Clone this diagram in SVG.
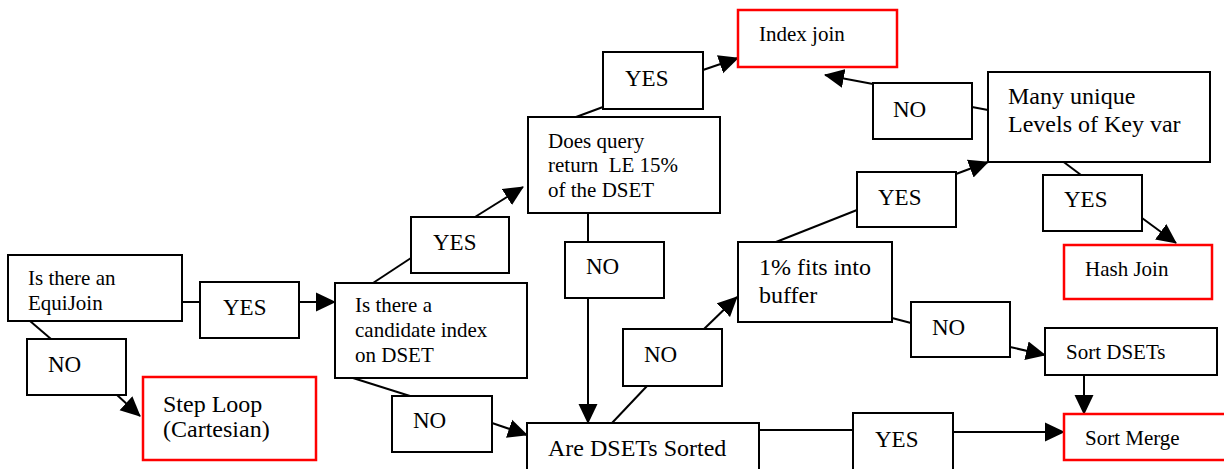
<svg xmlns="http://www.w3.org/2000/svg" width="1224" height="469" viewBox="0 0 1224 469">
<style>
.box{fill:#fff;stroke:#000;stroke-width:2}
.red{fill:#fff;stroke:#ff0000;stroke-width:2.5}
.t{font-family:"Liberation Serif","Times New Roman",serif;fill:#000;white-space:pre}
.s21{font-size:21px}
.s23{font-size:23px}
.s24{font-size:24px}
.c line{stroke:#000;stroke-width:2}
.c .a{marker-end:url(#ah)}
</style>
<defs>
<marker id="ah" markerUnits="userSpaceOnUse" markerWidth="20" markerHeight="20" refX="19" refY="10" orient="auto">
<path d="M0,0.5 L20,10 L0,19.5 z" fill="#000"/>
</marker>
</defs>
<rect width="1224" height="469" fill="#fff"/>
<g class="c" id="connectors">
<line x1="182" y1="302" x2="200" y2="302"/>
<line class="a" x1="299" y1="302" x2="335" y2="302"/>
<line x1="30" y1="321" x2="51" y2="339"/>
<line class="a" x1="117" y1="395" x2="140" y2="416"/>
<line x1="373" y1="283" x2="411" y2="258"/>
<line class="a" x1="475" y1="217" x2="523" y2="187"/>
<line x1="353" y1="378" x2="410" y2="396"/>
<line class="a" x1="492" y1="423" x2="527" y2="435"/>
<line x1="576" y1="117" x2="603" y2="107"/>
<line class="a" x1="703" y1="70" x2="738" y2="58"/>
<line x1="588" y1="213" x2="588" y2="242"/>
<line class="a" x1="588" y1="298" x2="588" y2="423"/>
<line x1="612" y1="423" x2="647" y2="386"/>
<line class="a" x1="704" y1="329" x2="737" y2="297"/>
<line x1="776" y1="242" x2="857" y2="210"/>
<line class="a" x1="956" y1="174" x2="988" y2="162"/>
<line x1="972" y1="107" x2="988" y2="110"/>
<line class="a" x1="873" y1="84" x2="825" y2="75"/>
<line x1="1057" y1="157" x2="1081" y2="175"/>
<line class="a" x1="1142" y1="218" x2="1176" y2="243"/>
<line x1="892" y1="318" x2="911" y2="323"/>
<line class="a" x1="1010" y1="347" x2="1045" y2="355"/>
<line class="a" x1="1084" y1="376" x2="1084" y2="414"/>
<line x1="757" y1="430" x2="853" y2="430"/>
<line class="a" x1="953" y1="432" x2="1064" y2="432"/>
</g>
<g id="n-equijoin"><rect class="box" x="8" y="255" width="174" height="66"/>
<text class="t s21" x="28" y="285">Is there an</text><text class="t s21" x="28" y="310">EquiJoin</text></g>
<g id="n-yes1"><rect class="box" x="200" y="282" width="99" height="56"/><text class="t s23" x="223" y="315">YES</text></g>
<g id="n-no1"><rect class="box" x="27" y="339" width="99" height="56"/><text class="t s23" x="48" y="372">NO</text></g>
<g id="n-steploop"><rect class="red" x="143" y="377" width="173" height="83"/>
<text class="t s24" x="163" y="412">Step Loop</text><text class="t s24" x="163" y="437">(Cartesian)</text></g>
<g id="n-candidate"><rect class="box" x="335" y="283" width="192" height="95"/>
<text class="t s21" x="355" y="312">Is there a</text><text class="t s21" x="355" y="337">candidate index</text><text class="t s21" x="355" y="362">on DSET</text></g>
<g id="n-yes2"><rect class="box" x="411" y="217" width="98" height="56"/><text class="t s23" x="433" y="250">YES</text></g>
<g id="n-no2"><rect class="box" x="392" y="396" width="100" height="56"/><text class="t s23" x="413" y="428">NO</text></g>
<g id="n-doesquery"><rect class="box" x="528" y="117" width="192" height="96"/>
<text class="t s21" x="548" y="148">Does query</text><text class="t s21" x="548" y="172">return  LE 15%</text><text class="t s21" x="548" y="197">of the DSET</text></g>
<g id="n-yes3"><rect class="box" x="603" y="52" width="100" height="57"/><text class="t s23" x="625" y="86">YES</text></g>
<g id="n-indexjoin"><rect class="red" x="738" y="10" width="159" height="57"/><text class="t s21" x="759" y="41">Index join</text></g>
<g id="n-no3"><rect class="box" x="565" y="242" width="99" height="56"/><text class="t s23" x="586" y="274">NO</text></g>
<g id="n-fits"><rect class="box" x="738" y="242" width="154" height="80"/>
<text class="t s24" x="759" y="275">1% fits into</text><text class="t s24" x="759" y="303">buffer</text></g>
<g id="n-no5"><rect class="box" x="623" y="329" width="99" height="57"/><text class="t s23" x="644" y="362">NO</text></g>
<g id="n-sorted"><rect class="box" x="527" y="423" width="232" height="70"/><text class="t s24" x="548" y="456">Are DSETs Sorted</text></g>
<g id="n-yes7"><rect class="box" x="853" y="413" width="100" height="70"/><text class="t s23" x="875" y="447">YES</text></g>
<g id="n-no4"><rect class="box" x="873" y="83" width="99" height="56"/><text class="t s23" x="893" y="117">NO</text></g>
<g id="n-manyunique"><rect class="box" x="988" y="72" width="222" height="90"/>
<text class="t s24" x="1008" y="104">Many unique</text><text class="t s24" x="1008" y="132">Levels of Key var</text></g>
<g id="n-yes5"><rect class="box" x="857" y="172" width="99" height="55"/><text class="t s23" x="878" y="205">YES</text></g>
<g id="n-yes6"><rect class="box" x="1043" y="175" width="99" height="56"/><text class="t s23" x="1064" y="207">YES</text></g>
<g id="n-hashjoin"><rect class="red" x="1064" y="245" width="148" height="54"/><text class="t s21" x="1085" y="276">Hash Join</text></g>
<g id="n-no6"><rect class="box" x="911" y="302" width="99" height="55"/><text class="t s23" x="932" y="335">NO</text></g>
<g id="n-sortdsets"><rect class="box" x="1045" y="328" width="172" height="47"/><text class="t s21" x="1066" y="359">Sort DSETs</text></g>
<g id="n-sortmerge"><rect class="red" x="1064" y="414" width="170" height="46"/><text class="t s21" x="1085" y="445">Sort Merge</text></g>
</svg>
